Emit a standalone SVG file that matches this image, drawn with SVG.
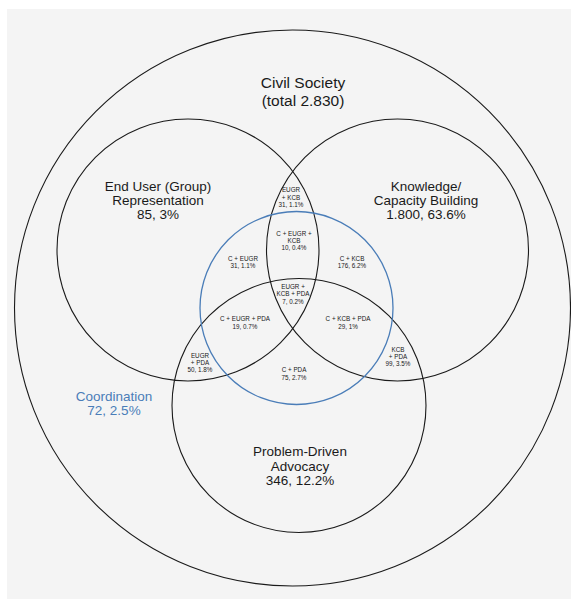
<svg xmlns="http://www.w3.org/2000/svg" width="571" height="599" viewBox="0 0 571 599">
<style>
.c{fill:none;stroke:#1a1a1a;stroke-width:1.1}
.b{fill:none;stroke:#4a7db8;stroke-width:1.3}
text{font-family:"Liberation Sans",Arial,sans-serif;text-anchor:middle;fill:#1a1a1a}
.big{font-size:13.5px}
.title{font-size:15.5px}
.sm{font-size:6.3px}
.blue{fill:#4a7db8}
</style>
<rect x="0" y="0" width="571" height="599" fill="#ffffff"/>
<rect x="7" y="9" width="564" height="590" fill="#f4f4f4"/>
<g id="civil-society">
<circle class="c" cx="292.5" cy="308" r="278"/>
<text class="title" x="303" y="88">Civil Society</text>
<text class="title" x="303" y="106">(total 2.830)</text>
</g>
<g id="eugr">
<circle class="c" cx="188" cy="250" r="131"/>
<text class="big" x="158" y="191">End User (Group)</text>
<text class="big" x="158" y="205">Representation</text>
<text class="big" x="158" y="219">85, 3%</text>
</g>
<g id="kcb">
<circle class="c" cx="397.5" cy="250" r="131"/>
<text class="big" x="426" y="191">Knowledge/</text>
<text class="big" x="426" y="205">Capacity Building</text>
<text class="big" x="426" y="219">1.800, 63.6%</text>
</g>
<g id="pda">
<circle class="c" cx="299" cy="405.5" r="127"/>
<text class="big" x="300" y="456">Problem-Driven</text>
<text class="big" x="300" y="471">Advocacy</text>
<text class="big" x="300" y="485">346, 12.2%</text>
</g>
<g id="coordination">
<circle class="b" cx="296.5" cy="308" r="96.5"/>
<text class="big blue" x="114" y="401">Coordination</text>
<text class="big blue" x="114" y="415">72, 2.5%</text>
</g>
<g id="overlaps">
<g id="eugr-kcb"><text class="sm" x="291" y="192">EUGR</text><text class="sm" x="291" y="200">+ KCB</text><text class="sm" x="291" y="207">31, 1.1%</text></g>
<g id="c-eugr-kcb"><text class="sm" x="294" y="236">C + EUGR +</text><text class="sm" x="294" y="243">KCB</text><text class="sm" x="294" y="250">10, 0.4%</text></g>
<g id="c-eugr"><text class="sm" x="243" y="261">C + EUGR</text><text class="sm" x="243" y="268">31, 1.1%</text></g>
<g id="c-kcb"><text class="sm" x="352" y="261">C + KCB</text><text class="sm" x="352" y="268">176, 6.2%</text></g>
<g id="eugr-kcb-pda"><text class="sm" x="293" y="289">EUGR +</text><text class="sm" x="293" y="296">KCB + PDA</text><text class="sm" x="293" y="304">7, 0.2%</text></g>
<g id="c-eugr-pda"><text class="sm" x="245" y="321">C + EUGR + PDA</text><text class="sm" x="245" y="329">19, 0.7%</text></g>
<g id="c-kcb-pda"><text class="sm" x="348" y="321">C + KCB + PDA</text><text class="sm" x="348" y="329">29, 1%</text></g>
<g id="eugr-pda"><text class="sm" x="200" y="358">EUGR</text><text class="sm" x="200" y="365">+ PDA</text><text class="sm" x="200" y="372">50, 1.8%</text></g>
<g id="kcb-pda"><text class="sm" x="398" y="352">KCB</text><text class="sm" x="398" y="359">+ PDA</text><text class="sm" x="398" y="366">99, 3.5%</text></g>
<g id="c-pda"><text class="sm" x="294" y="372">C + PDA</text><text class="sm" x="294" y="380">75, 2.7%</text></g>
</g>
</svg>
